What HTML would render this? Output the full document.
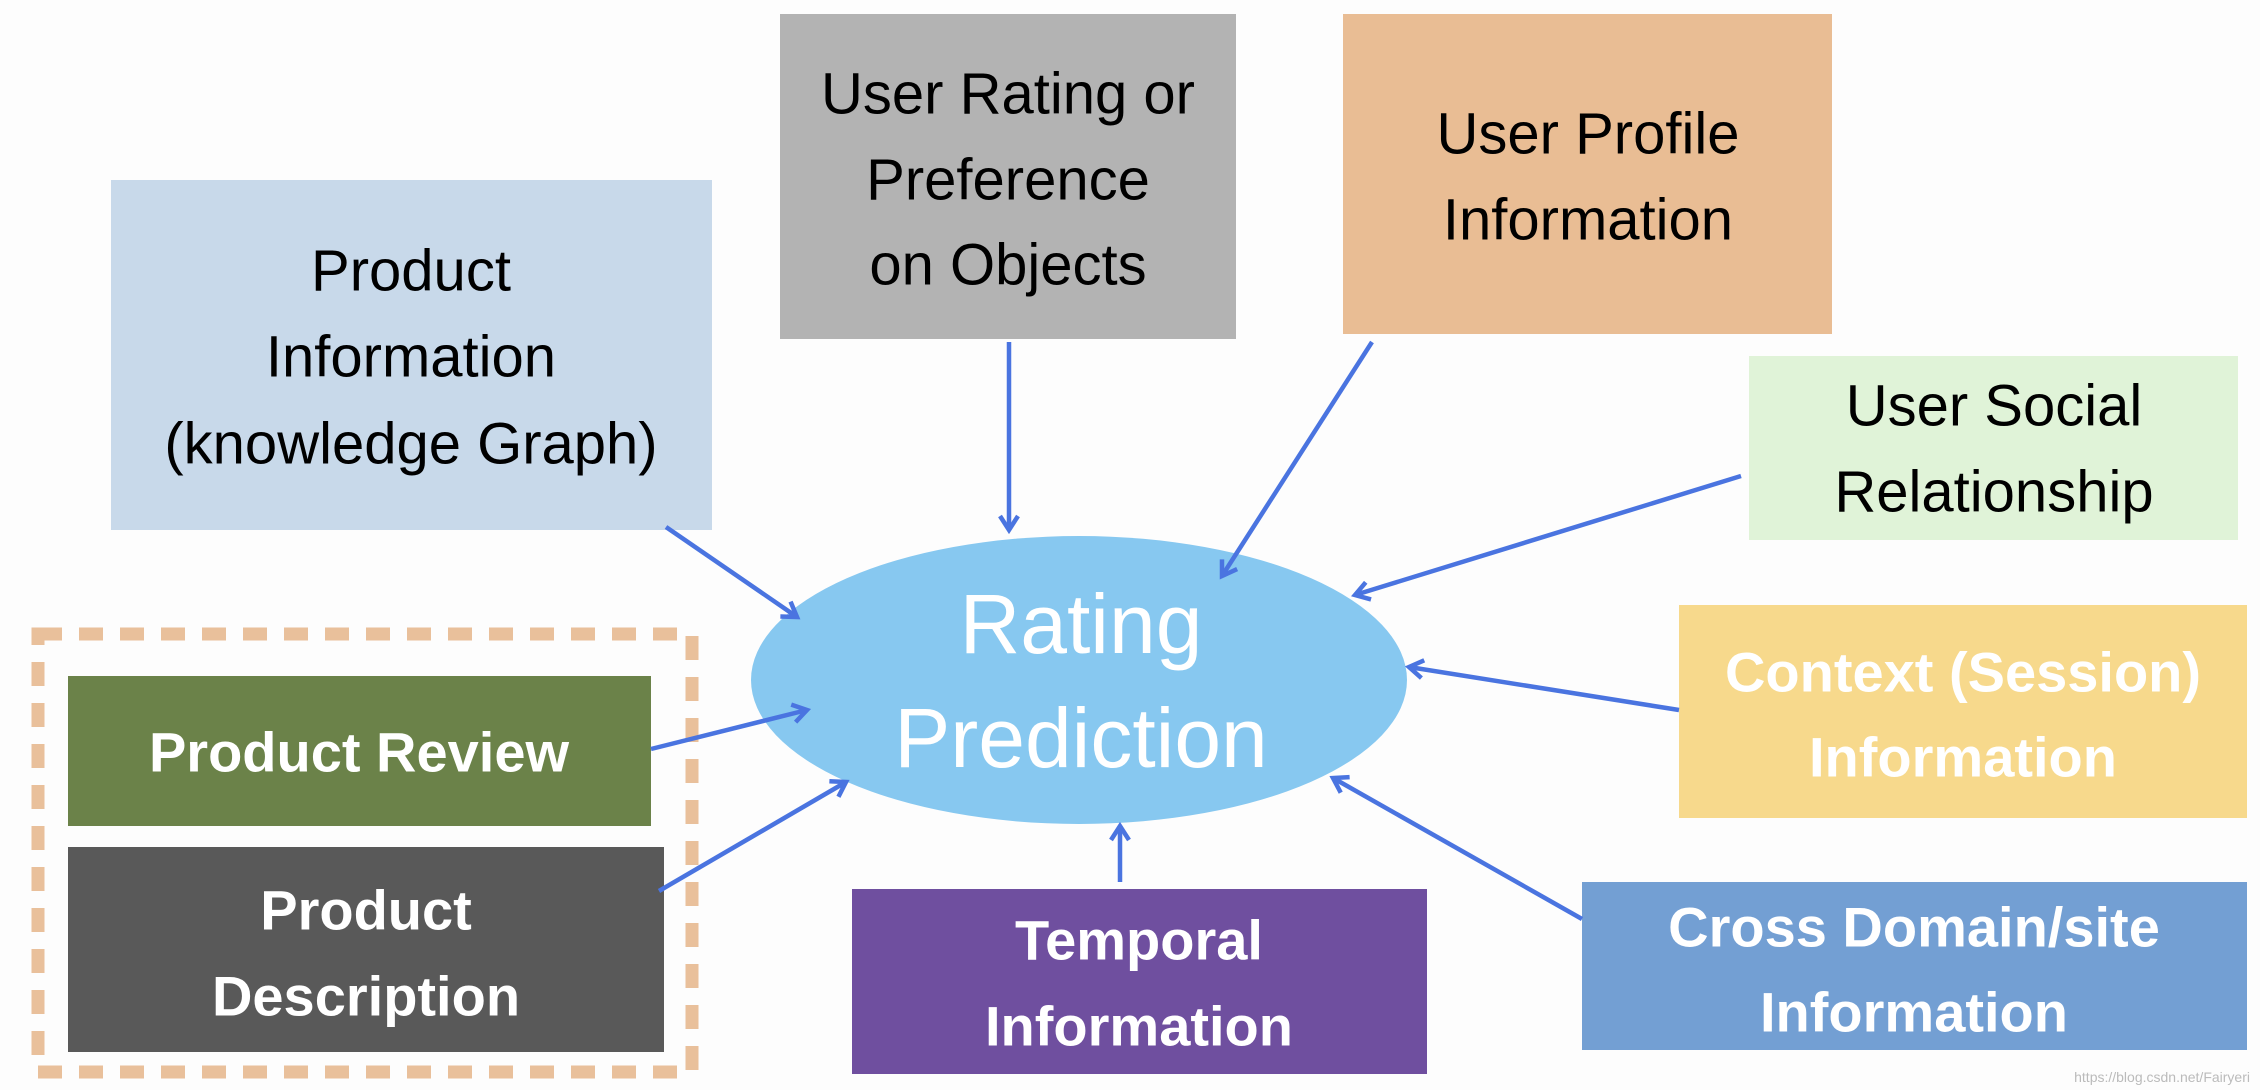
<!DOCTYPE html>
<html><head><meta charset="utf-8"><style>
html,body{margin:0;padding:0;background:#fdfdfd;}
svg{display:block;}
text{font-family:"Liberation Sans",sans-serif;text-anchor:middle;dominant-baseline:central;}
</style></head><body>
<svg width="2260" height="1090" viewBox="0 0 2260 1090" xmlns="http://www.w3.org/2000/svg">
<defs>
<marker id="h" markerWidth="24" markerHeight="24" refX="20" refY="12" orient="auto" markerUnits="userSpaceOnUse">
<path d="M6,3 L20,12 L6,21" fill="none" stroke="#4a74e0" stroke-width="4.5"/>
</marker>
</defs>
<rect width="2260" height="1090" fill="#fdfdfd"/>
<rect x="111" y="180" width="601" height="350" fill="#c8d9ea"/>
<rect x="780" y="14" width="456" height="325" fill="#b3b3b3"/>
<rect x="1343" y="14" width="489" height="320" fill="#e9bd94"/>
<rect x="1749" y="356" width="489" height="184" fill="#e0f3d8"/>
<rect x="1679" y="605" width="568" height="213" fill="#f7d98c"/>
<rect x="1582" y="882" width="665" height="168" fill="#739fd3"/>
<rect x="852" y="889" width="575" height="185" fill="#6f4f9f"/>
<rect x="68" y="676" width="583" height="150" fill="#6b8249"/>
<rect x="68" y="847" width="596" height="205" fill="#595959"/>
<rect x="38" y="634" width="654" height="438" fill="none" stroke="#e9c09b" stroke-width="13" stroke-dasharray="24 17"/>
<ellipse cx="1079" cy="680" rx="328" ry="144" fill="#87c8f0"/>
<g stroke="#4a74e0" stroke-width="4.5" fill="none" marker-end="url(#h)">
<line x1="666" y1="527" x2="797" y2="617"/>
<line x1="1009" y1="342" x2="1009" y2="530"/>
<line x1="1372" y1="342" x2="1222" y2="576"/>
<line x1="1741" y1="476" x2="1355" y2="595"/>
<line x1="1679" y1="710" x2="1409" y2="667"/>
<line x1="1582" y1="919" x2="1333" y2="778"/>
<line x1="1120" y1="882" x2="1120" y2="826"/>
<line x1="651" y1="749" x2="807" y2="710"/>
<line x1="659" y1="891" x2="846" y2="782"/>
</g>
<g font-size="58" fill="#000">
<text x="411" y="271">Product</text>
<text x="411" y="357">Information</text>
<text x="411" y="444">(knowledge Graph)</text>
<text x="1008" y="94">User Rating or</text>
<text x="1008" y="180">Preference</text>
<text x="1008" y="265">on Objects</text>
<text x="1588" y="134">User Profile</text>
<text x="1588" y="220">Information</text>
<text x="1994" y="406">User Social</text>
<text x="1994" y="492">Relationship</text>
</g>
<g font-size="56" fill="#fff" font-weight="bold">
<text x="1963" y="672">Context (Session)</text>
<text x="1963" y="757">Information</text>
<text x="1914" y="927">Cross Domain/site</text>
<text x="1914" y="1012">Information</text>
<text x="1139" y="940">Temporal</text>
<text x="1139" y="1026">Information</text>
<text x="359" y="752">Product  Review</text>
<text x="366" y="910">Product</text>
<text x="366" y="996">Description</text>
</g>
<g font-size="84" fill="#fff">
<text x="1081" y="624">Rating</text>
<text x="1081" y="738">Prediction</text>
</g>
<text x="2250" y="1077" font-size="14" fill="#bbb" style="text-anchor:end">https://blog.csdn.net/Fairyeri</text>
</svg>
</body></html>
